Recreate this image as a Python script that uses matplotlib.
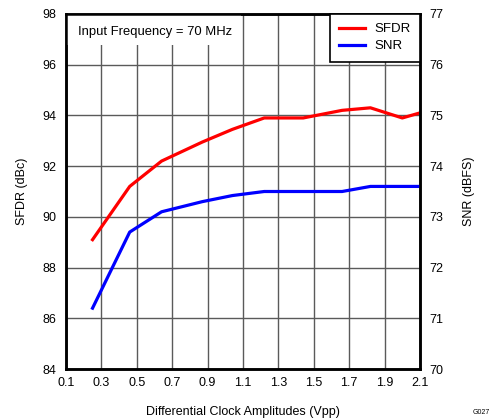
import numpy as np
import matplotlib
matplotlib.use("Agg")
import matplotlib.pyplot as plt
from matplotlib.patches import Rectangle

plt.rcParams["font.family"] = ["Liberation Sans", "DejaVu Sans"]

# =========================
# DATA
# =========================
clock_amp = [0.25, 0.46, 0.64, 0.87, 1.04, 1.22, 1.44, 1.66, 1.82, 2.0, 2.1]
sfdr = [89.1, 91.2, 92.2, 92.95, 93.45, 93.9, 93.9, 94.2, 94.3, 93.9, 94.1]
snr = [71.2, 72.7, 73.1, 73.3, 73.42, 73.5, 73.5, 73.5, 73.6, 73.6, 73.6]

x_ticks = [0.1, 0.3, 0.5, 0.7, 0.9, 1.1, 1.3, 1.5, 1.7, 1.9, 2.1]
sfdr_ticks = [84, 86, 88, 90, 92, 94, 96, 98]
snr_ticks = [70, 71, 72, 73, 74, 75, 76, 77]

# =========================
# FIGURE
# =========================
fig = plt.figure(figsize=(4.91, 4.2), dpi=100)
ax = fig.add_axes([0.1344, 0.1214, 0.7210, 0.8453])
ax2 = ax.twinx()

ax.set_xlim(0.1, 2.1)
ax.set_ylim(84, 98)
ax2.set_ylim(70, 77)
ax.set_xticks(x_ticks)
ax.set_xticklabels([f"{v:.1f}" for v in x_ticks])
ax.set_yticks(sfdr_ticks)
ax2.set_yticks(snr_ticks)

ax.grid(True, color="#5a5a5a", linewidth=1.0)
ax.set_axisbelow(True)
ax.tick_params(axis="y", length=0, labelsize=9, pad=7)
ax.tick_params(axis="x", length=0, labelsize=9, pad=6)
ax2.tick_params(length=0, labelsize=9, pad=7)

for a in (ax, ax2):
    for s in a.spines.values():
        s.set_linewidth(1.8)
        s.set_color("black")

l1, = ax.plot(clock_amp, sfdr, color="#ff0000", linewidth=2.3, label="SFDR")
l2, = ax2.plot(clock_amp, snr, color="#0000ff", linewidth=2.3, label="SNR")

ax.set_xlabel("Differential Clock Amplitudes (Vpp)", fontsize=9, labelpad=12)
ax.set_ylabel("SFDR (dBc)", fontsize=9, labelpad=10)
ax2.set_ylabel("SNR (dBFS)", fontsize=9, labelpad=14)

leg = ax2.legend(handles=[l1, l2], loc="upper right", fontsize=9.5,
                 frameon=True, fancybox=False, framealpha=1,
                 edgecolor="black", borderaxespad=0, handlelength=2.0,
                 handletextpad=0.7, labelspacing=0.35, borderpad=0.7)
leg.get_frame().set_linewidth(1.2)

# white box behind the annotation, under the spines
ax2.add_patch(Rectangle((0, 0.913), 0.494, 0.087, transform=ax.transAxes,
                        facecolor="white", edgecolor="none", zorder=2))
ax2.text(0.034, 0.949, "Input Frequency = 70 MHz", transform=ax.transAxes,
         fontsize=9.4, va="center", ha="left", zorder=2.1)

fig.text(0.997, 0.01, "G027", fontsize=5, ha="right", va="bottom")

plt.savefig("out.png", dpi=100)
